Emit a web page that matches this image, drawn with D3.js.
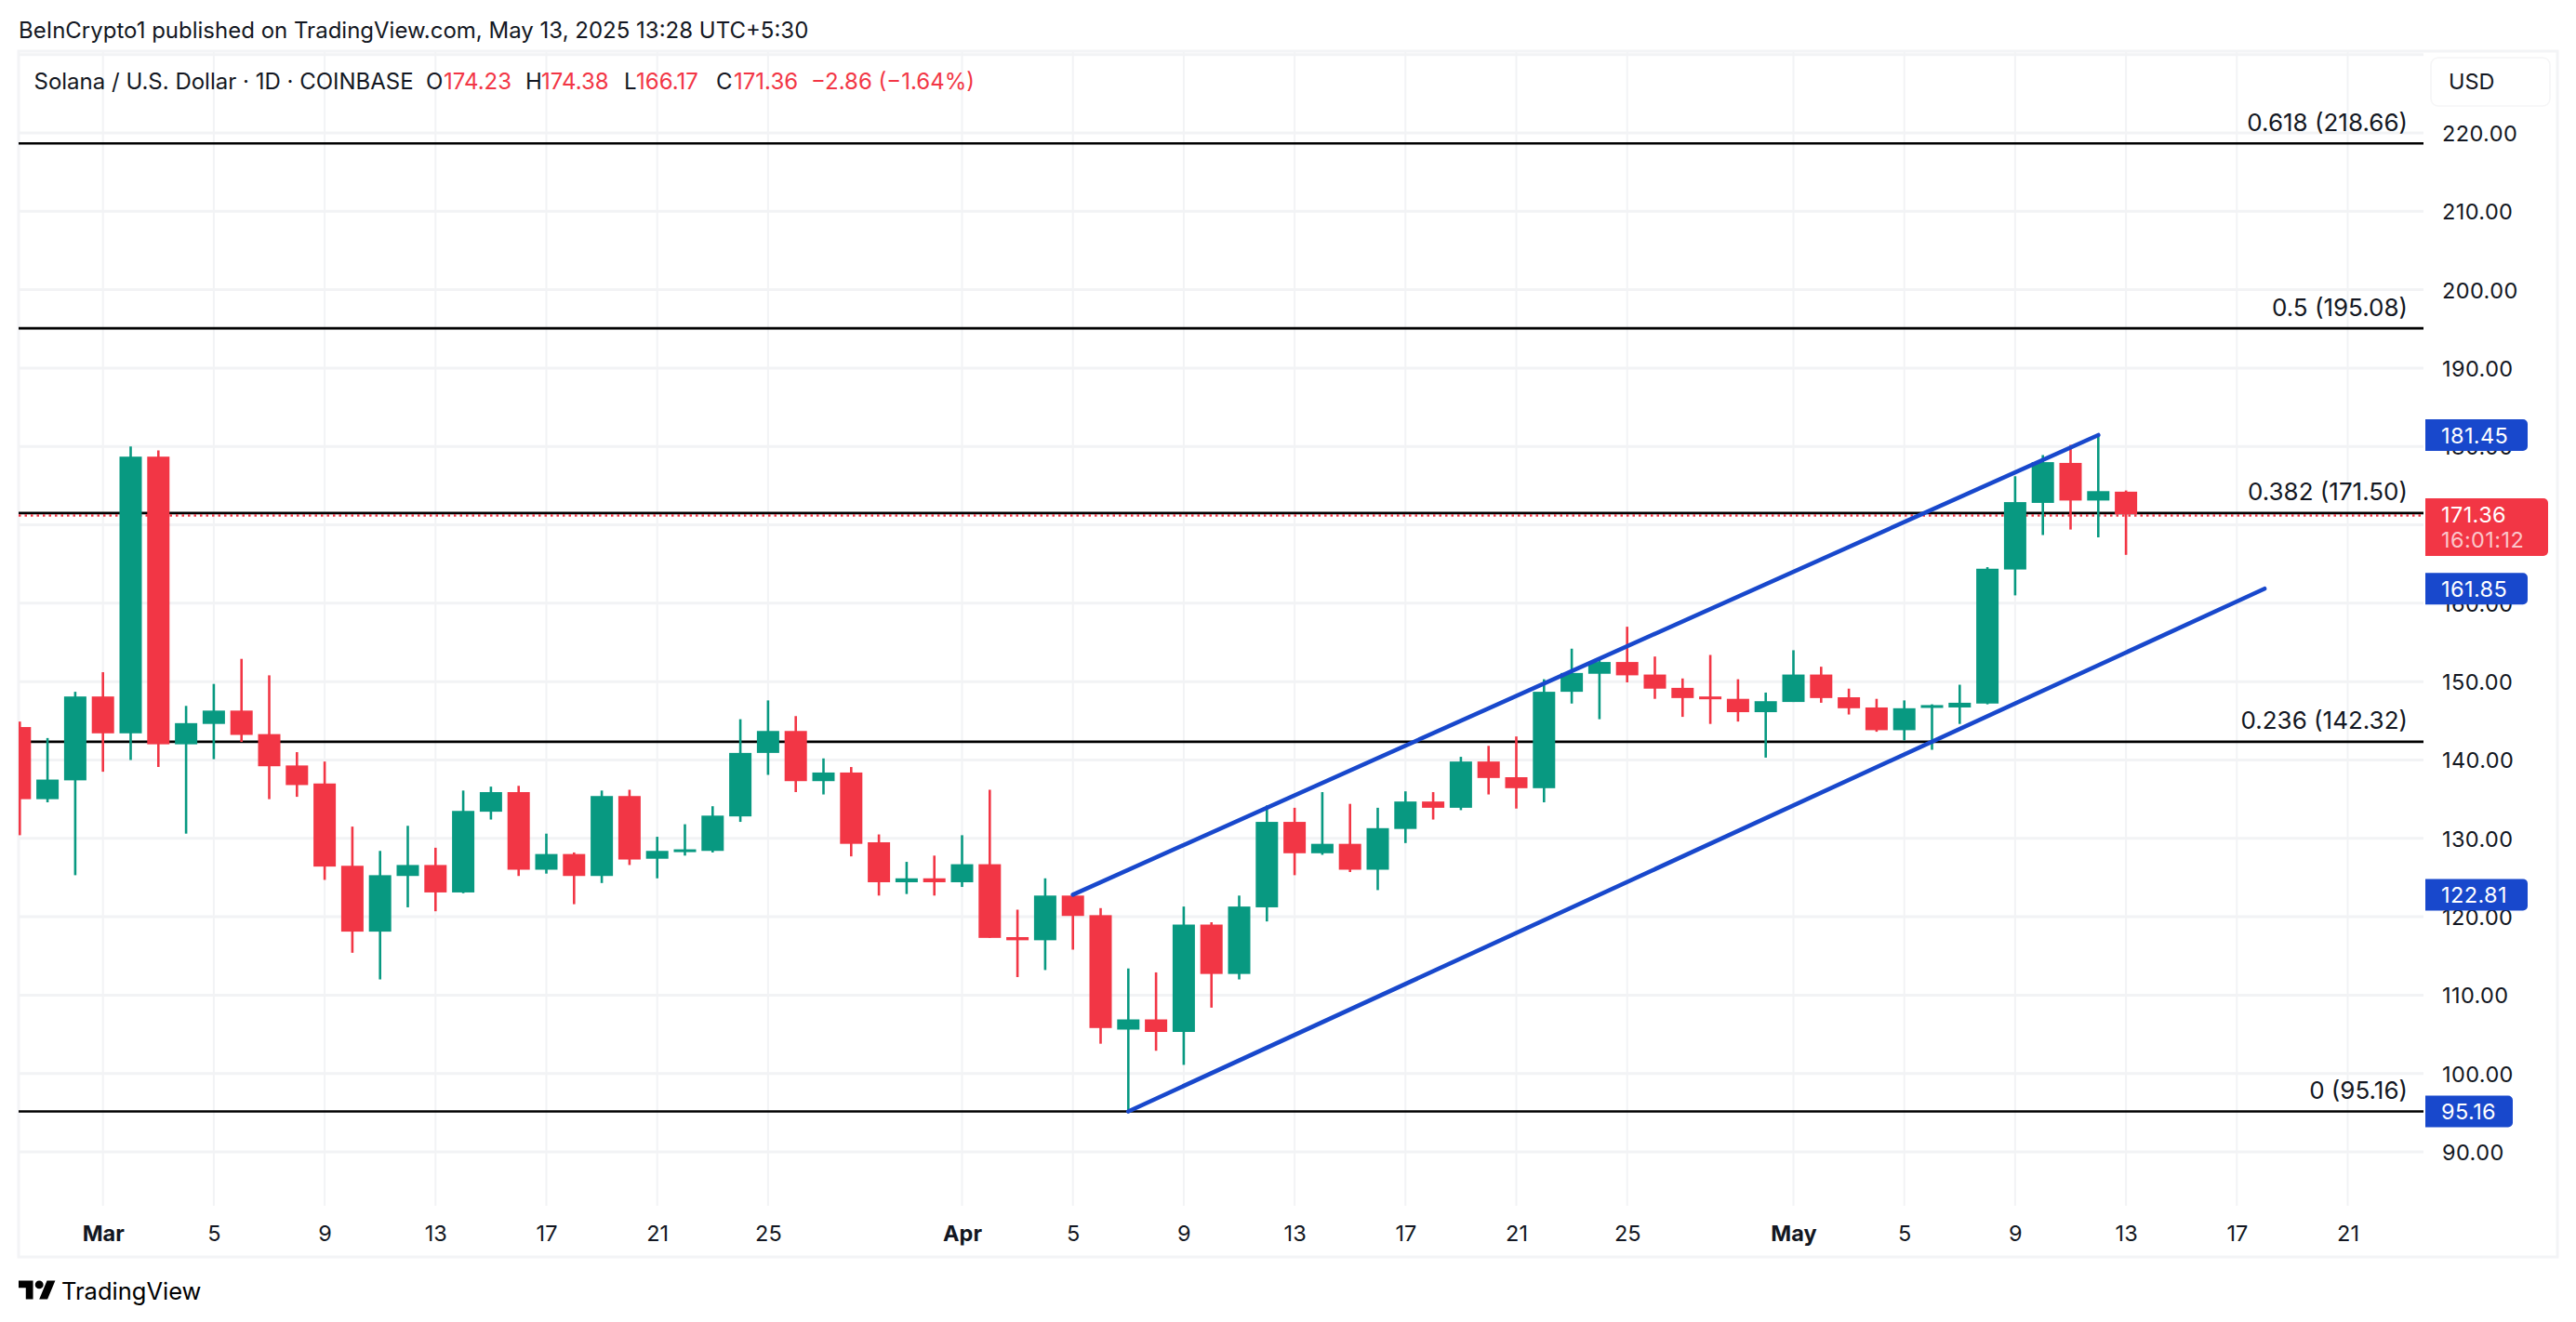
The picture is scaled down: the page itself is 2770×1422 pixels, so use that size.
<!DOCTYPE html>
<html>
<head>
<meta charset="utf-8">
<script src="https://cdn.jsdelivr.net/npm/d3@7"></script>
<style>
html,body{margin:0;padding:0;background:#fff;}
svg{display:block;}
text{font-family:Inter,"Noto Sans",sans-serif;}
</style>
</head>
<body>
<div id="chart"></div>
<script>
// Daily candles, Feb 26 to May 13 2025
const firstDay = "2025-02-26";
const opens  = [144.2,135,137.4,148.1,143.4,178.7,142,144.6,146.3,143.3,139.3,137,126.5,118.1,125.2,126.6,123.1,133.4,135.9,126,128,125.2,135.4,127.4,128.4,128.4,132.8,140.9,143.7,137.3,138.4,129.5,124.4,124.9,124.4,126.7,117.4,117,122.7,120.2,105.6,106.9,105.3,119,112.7,121.2,132.1,128.1,129.3,126,131.2,134.7,133.9,139.8,137.8,136.4,148.7,151,152.5,150.9,149.2,148.1,147.8,146.1,147.4,150.9,148,146.7,143.8,146.7,146.7,147.2,164.3,172.8,177.9,173.1,174.23];
const closes = [135,137.5,148.1,143.4,178.7,142,144.7,146.3,143.2,139.2,136.8,126.4,118.1,125.3,126.6,123.1,133.5,135.9,126,128,125.2,135.4,127.3,128.4,128.6,132.9,140.9,143.7,137.3,138.4,129.3,124.4,124.9,124.4,126.7,117.3,117,122.7,120.1,105.8,106.9,105.3,119,112.7,121.3,132.1,128.1,129.3,126,131.3,134.7,133.9,139.8,137.7,136.4,148.7,151.1,152.5,150.8,149.1,147.9,147.9,146.1,147.5,150.9,147.9,146.6,143.8,146.6,147,147.3,164.4,172.9,178,173.1,174.3,171.36];
const highs  = [144.9,142.8,148.7,151.2,180,179.5,146.9,149.7,152.9,150.8,141,139.8,131.5,128.4,131.6,128.8,136.1,136.6,136.7,130.6,128.2,136.1,136.2,130.2,131.8,134.1,145.2,147.6,145.6,140.2,139.1,130.5,127,127.8,130.4,136.2,120.9,124.9,122.7,121.1,113.4,112.9,121.3,119.3,122.7,134.2,133.9,135.9,134.4,133.9,136,135.9,140.4,141.8,143,150.3,154.2,152.8,157,153.2,150.4,153.4,150.3,148.6,154,151.9,149.1,147.8,147.6,147.1,149.6,164.6,176.2,178.9,180.2,181.45,174.38];
const lows   = [130.4,134.6,125.3,138.5,140,139.1,130.6,140.1,142.3,135,135.3,124.7,115.4,112,121.2,120.7,123,132.4,125.2,125.5,121.6,124.3,126.6,124.9,127.8,128.2,132.1,138.1,135.9,135.6,127.7,122.7,122.9,122.7,123.8,117.3,112.3,113.2,115.8,103.8,95.16,102.9,101.1,108.4,112,119.4,125.3,127.9,125.7,123.4,129.4,132.4,133.6,135.6,133.8,134.6,147.2,145.2,149.9,147.8,145.5,144.6,144.9,140.3,147.4,147.3,145.8,143.6,142.5,141.3,144.6,147.1,161,168.7,169.4,168.4,166.17];

const priceTicks = [90,100,110,120,130,140,150,160,180,190,200,210,220];
const priceGrid  = [90,100,110,120,130,140,150,160,170,180,190,200,210,220,230];
const dayTicks = ["2025-03-01","2025-03-05","2025-03-09","2025-03-13","2025-03-17","2025-03-21","2025-03-25","2025-04-01","2025-04-05","2025-04-09","2025-04-13","2025-04-17","2025-04-21","2025-04-25","2025-05-01","2025-05-05","2025-05-09","2025-05-13","2025-05-17","2025-05-21"];
const fibRatios = ["0.618","0.5","0.382","0.236","0"];
const fibPrices = [218.66,195.08,171.50,142.32,95.16];
const upperChannelDays = ["2025-04-05","2025-05-12"];
const upperChannelPrices = [122.81,181.45];
const lowerChannelDays = ["2025-04-07","2025-05-18"];
const lowerChannelPrices = [95.16,161.85];
const blueTags = ["181.45","161.85","122.81","95.16"];
const lastPrice = 171.36;
const countdown = "16:01:12";

const W=2770,H=1422;
const C={green:"#089981",red:"#F23645",blue:"#1848CC",grid:"#F2F3F5",border:"#F3F4F6",text:"#131722"};
const parse=d3.utcParse("%Y-%m-%d");
const plot={l:20,r:2606,t:56,b:1297};
const start=parse(firstDay);
const candles=d3.range(77).map(i=>({date:d3.utcDay.offset(start,i),o:opens[i],c:closes[i],h:highs[i],l:lows[i]}));

const x=d3.scaleUtc().domain([parse("2025-03-01"),parse("2025-05-21")]).range([110.7,2524.5]);
const y=d3.scaleLinear().domain([90,220]).range([1239,143]);

const svg=d3.select("#chart").append("svg").attr("width",W).attr("height",H).attr("viewBox",`0 0 ${W} ${H}`);
svg.append("rect").attr("width",W).attr("height",H).attr("fill","#fff");
svg.append("defs").append("clipPath").attr("id","plotclip").append("rect")
  .attr("x",plot.l).attr("y",plot.t).attr("width",plot.r-plot.l).attr("height",plot.b-plot.t);

// outer frame
svg.append("rect").attr("x",20).attr("y",55).attr("width",2730).attr("height",1297)
  .attr("fill","none").attr("stroke",C.border).attr("stroke-width",3);

// grid
const gridG=svg.append("g").attr("clip-path","url(#plotclip)");
gridG.selectAll(".hg").data(priceGrid).join("line")
  .attr("x1",plot.l).attr("x2",plot.r).attr("y1",d=>y(d)).attr("y2",d=>y(d))
  .attr("stroke",C.grid).attr("stroke-width",3);
gridG.selectAll(".vg").data(dayTicks).join("line")
  .attr("x1",d=>x(parse(d))).attr("x2",d=>x(parse(d))).attr("y1",plot.t).attr("y2",plot.b)
  .attr("stroke",C.grid).attr("stroke-width",2);

// fib levels
const main=svg.append("g").attr("clip-path","url(#plotclip)");
main.selectAll(".fib").data(fibPrices).join("line")
  .attr("x1",plot.l).attr("x2",plot.r).attr("y1",d=>y(d)).attr("y2",d=>y(d))
  .attr("stroke","#000").attr("stroke-width",2.6);
// last price line
main.append("line").attr("x1",plot.l).attr("x2",plot.r).attr("y1",y(lastPrice)+1.5).attr("y2",y(lastPrice)+1.5)
  .attr("stroke",C.red).attr("stroke-width",2.5).attr("stroke-dasharray","2.5 4");

// candles
const barW=24;
const col=d=>d.c>=d.o?C.green:C.red;
main.selectAll(".wick").data(candles).join("line")
  .attr("x1",d=>x(d.date)).attr("x2",d=>x(d.date)).attr("y1",d=>y(d.h)).attr("y2",d=>y(d.l))
  .attr("stroke",col).attr("stroke-width",2.6);
main.selectAll(".body").data(candles).join("rect")
  .attr("x",d=>x(d.date)-barW/2).attr("width",barW)
  .attr("y",d=>y(Math.max(d.o,d.c))).attr("height",d=>Math.max(3,Math.abs(y(d.o)-y(d.c))))
  .attr("fill",col);

// channel
const chLine=d3.line().x(d=>x(parse(d[0]))).y(d=>y(d[1]));
[[upperChannelDays,upperChannelPrices],[lowerChannelDays,lowerChannelPrices]].forEach(([ds,ps])=>{
  main.append("path").attr("d",chLine(d3.zip(ds,ps))).attr("fill","none")
    .attr("stroke",C.blue).attr("stroke-width",4.6).attr("stroke-linecap","round");
});

// fib labels
svg.selectAll(".fibl").data(fibPrices).join("text")
  .attr("x",2589).attr("y",d=>y(d)-23).attr("text-anchor","end").attr("dominant-baseline","central")
  .attr("font-size",26).attr("fill",C.text)
  .text((d,i)=>`${fibRatios[i]} (${d.toFixed(2)})`);

// price axis
const yAxis=d3.axisRight(y).tickValues(priceTicks).tickSize(0).tickPadding(0).tickFormat(d3.format(".2f"));
const yg=svg.append("g").attr("transform","translate(2626,0)").call(yAxis);
yg.select(".domain").remove();
yg.selectAll("text").attr("font-size",23.5).attr("fill",C.text).attr("font-family","Inter").attr("dy",null).attr("dominant-baseline","central").style("letter-spacing","0.4px");

// time axis
const xAxis=d3.axisBottom(x).tickValues(dayTicks.map(parse)).tickSize(0).tickPadding(0)
  .tickFormat(d=>d.getUTCDate()===1?d3.utcFormat("%b")(d):String(d.getUTCDate()));
const xg=svg.append("g").attr("transform","translate(0,1326)").call(xAxis);
xg.select(".domain").remove();
xg.selectAll("text").attr("font-size",23.5).attr("fill",C.text).attr("font-family","Inter").attr("dy",null).attr("y",0).attr("dominant-baseline","central")
  .attr("font-weight",d=>d.getUTCDate()===1?700:400);

// USD box
svg.append("rect").attr("x",2614).attr("y",62).attr("width",128).attr("height",52).attr("rx",8)
  .attr("fill","#fff").attr("stroke","#F5F5F6").attr("stroke-width",1.5);
svg.append("text").attr("x",2633).attr("y",87).attr("dominant-baseline","central").attr("font-size",23.5).attr("fill",C.text).text("USD");

// right edge tags
function tag(price,width,label){
  const cy=y(price);
  const w=width,h=34,r=5;
  svg.append("path").attr("d",`M2608 ${cy-h/2}H${2608+w-r}a${r} ${r} 0 0 1 ${r} ${r}V${cy+h/2-r}a${r} ${r} 0 0 1 ${-r} ${r}H2608Z`).attr("fill",C.blue);
  svg.append("text").attr("x",2625).attr("y",cy).attr("dominant-baseline","central")
    .attr("font-size",23.5).attr("fill","#fff").style("letter-spacing","0.4px").text(label);
}
[110,110,110,94].forEach((w,i)=>tag(+blueTags[i],w,blueTags[i]));
// last price tag
const lpY=y(lastPrice);
svg.append("path").attr("d",`M2608 ${lpY-17}H2735a5 5 0 0 1 5 5V${lpY+40}a5 5 0 0 1 -5 5H2608Z`).attr("fill",C.red);
svg.append("text").attr("x",2625).attr("y",lpY).attr("dominant-baseline","central").attr("font-size",23.5).attr("fill","#fff").style("letter-spacing","0.4px").text(lastPrice.toFixed(2));
svg.append("text").attr("x",2625).attr("y",lpY+27).attr("dominant-baseline","central").attr("font-size",23.5).attr("fill","#fff").attr("fill-opacity",.72).style("letter-spacing","0.4px").text(countdown);

// headers
svg.append("text").attr("x",20).attr("y",32).attr("dominant-baseline","central").attr("font-size",24).attr("fill",C.text)
  .text("BeInCrypto1 published on TradingView.com, May 13, 2025 13:28 UTC+5:30");
const hdr=[
 {x:36.5,t:"Solana / U.S. Dollar · 1D · COINBASE",c:C.text},
 {x:458,t:"O",c:C.text},{x:477,t:"174.23",c:C.red},
 {x:565,t:"H",c:C.text},{x:582,t:"174.38",c:C.red},
 {x:671,t:"L",c:C.text},{x:684,t:"166.17",c:C.red},
 {x:770,t:"C",c:C.text},{x:789,t:"171.36",c:C.red},
 {x:872,t:"−2.86 (−1.64%)",c:C.red}
];
svg.selectAll(".hdr").data(hdr).join("text").attr("x",d=>d.x).attr("y",87).attr("dominant-baseline","central")
  .attr("font-size",24).attr("fill",d=>d.c).text(d=>d.t);

// logo
const logo=svg.append("g").attr("transform","translate(20,1373) scale(1.11)").attr("fill","#000");
logo.append("path").attr("d","M14 22H7V11H0V4h14v18zM28 22h-8l7.5-18h8L28 22z");
logo.append("circle").attr("cx",20).attr("cy",8).attr("r",4);
svg.append("text").attr("x",66).attr("y",1388).attr("dominant-baseline","central").attr("font-size",25.5).attr("font-weight",400).attr("fill","#000").text("TradingView");
</script>
</body>
</html>
